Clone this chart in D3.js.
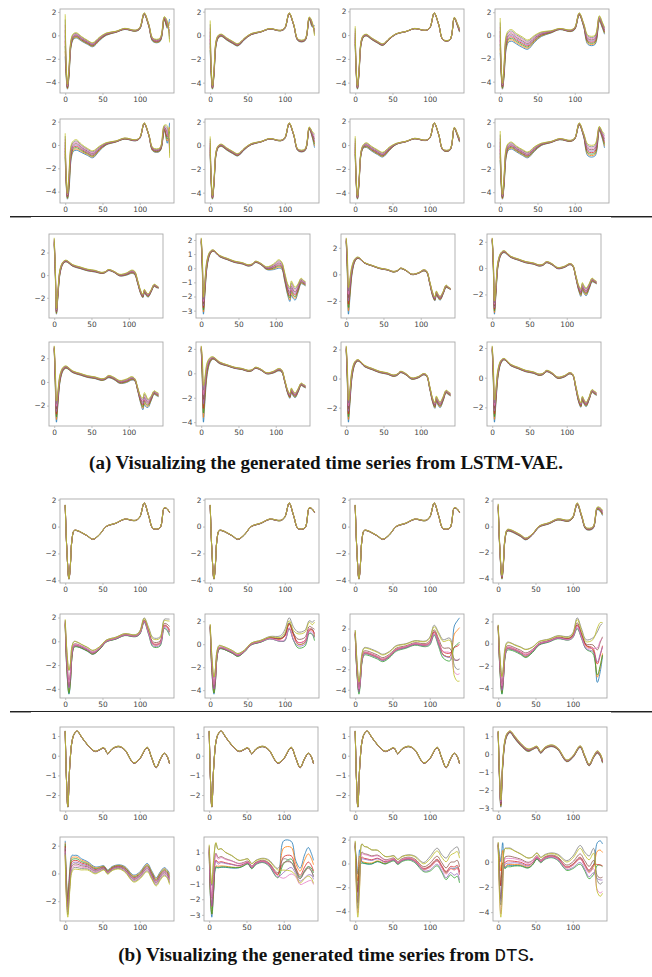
<!DOCTYPE html>
<html>
<head>
<meta charset="utf-8">
<script src="https://cdn.jsdelivr.net/npm/d3@7"></script>
<style>
body { margin: 0; background: #fff; }
</style>
</head>
<body>
<div id="chart"></div>
<script>

// matplotlib tab10, 9 series per panel
var lineColors = ["#1f77b4","#ff7f0e","#2ca02c","#d62728","#9467bd","#8c564b","#e377c2","#7f7f7f","#bcbd22"];
// position of each series inside a bundle, and a second "crossing" mode
var lineFrac  = [-0.5,-0.375,-0.25,-0.125,0,0.125,0.25,0.375,0.5];
var twistFrac = [0.5,0.3,-0.2,0.1,-0.4,0.0,-0.5,0.25,-0.1];
var xTicks = [0, 50, 100];

// ---- (a) upper block: LSTM-VAE, dataset 1
var knotsG1 = [0,1,3,5,8,11,15,22,30,37,46,55,68,80,94,100,106,112,118,127,133,137,140];
var shapeG1 = [0.0,-2.5,-4.4,-3.2,-0.6,-0.1,0.0,-0.3,-0.6,-0.8,-0.3,0.1,0.3,0.55,0.4,0.6,1.85,0.9,-0.4,-0.4,1.45,0.9,0.4];
var spreadG1 = [
  [3.6,1.5,0.4,0.8,0.6,0.5,0.45,0.4,0.35,0.35,0.3,0.2,0.1,0.1,0.1,0.15,0.15,0.2,0.3,0.3,0.3,0.6,-2.0],
  [2.5,1.0,0.3,0.5,0.4,0.25,0.2,0.2,0.2,0.2,0.15,0.1,0.05,0.05,0.05,0.1,0.1,0.1,0.15,0.15,0.2,0.4,-0.9],
  [1.5,0.6,0.3,0.4,0.3,0.2,0.15,0.15,0.15,0.15,0.1,0.05,0.03,0.03,0.03,0.05,0.05,0.05,0.05,0.05,0.1,0.2,0.3],
  [3.0,1.0,0.5,1.0,1.2,1.0,1.0,0.9,0.9,0.8,0.6,0.4,0.2,0.1,0.15,0.2,0.2,0.3,0.8,0.8,0.5,0.5,0.6],
  [2.0,1.0,0.5,1.5,1.2,0.9,0.9,0.7,0.6,0.6,0.4,0.2,0.1,0.1,0.1,0.1,0.1,0.1,0.3,0.3,0.5,1.5,-3.0],
  [1.5,0.6,0.3,0.4,0.3,0.2,0.2,0.2,0.2,0.2,0.15,0.1,0.05,0.05,0.05,0.1,0.1,0.1,0.15,0.15,0.2,0.5,1.2],
  [1.5,0.6,0.3,0.4,0.3,0.3,0.4,0.4,0.4,0.4,0.3,0.1,0.05,0.05,0.05,0.05,0.05,0.05,0.1,0.1,0.1,0.2,0.3],
  [2.5,1.0,0.4,0.8,0.8,0.6,0.6,0.5,0.5,0.5,0.4,0.2,0.1,0.1,0.1,0.1,0.2,0.3,1.0,1.0,0.4,0.6,1.2]
];
var ticksG1 = [[-4,-2,0,2],[-4,-2,0,2],[-4,-2,0,2],[-4,-2,0,2],[-4,-2,0,2],[-4,-2,0,2],[-4,-2,0,2],[-4,-2,0,2]];

// ---- (a) lower block: LSTM-VAE, dataset 2
var knotsG2 = [0,1.5,3,5,8,12,16,25,35,45,55,63,68,73,80,88,97,104,108,112,116,119,121,123,126,130,134,137,140];
var shapeG2 = [3.0,0.3,-3.2,-1.6,0.4,1.1,1.25,0.85,0.65,0.45,0.35,0.2,0.25,0.45,0.3,0.0,0.1,0.3,0.2,-0.6,-1.5,-1.85,-1.4,-1.6,-1.8,-1.4,-0.9,-1.0,-1.1];
var spreadG2 = [
  [0.6,0.8,0.5,0.6,0.4,0.2,0.15,0.15,0.15,0.15,0.15,0.1,0.1,0.1,0.1,0.15,0.2,0.3,0.3,0.3,0.3,0.3,0.3,0.3,0.3,0.2,0.2,0.2,0.1],
  [0.3,1.0,1.2,1.0,0.5,0.2,0.1,0.1,0.1,0.1,0.1,0.1,0.1,0.1,0.1,0.2,0.4,0.6,0.5,0.6,0.8,1.0,1.0,1.0,0.9,0.6,0.4,0.3,0.3],
  [0.3,1.5,2.0,1.5,0.6,0.2,0.1,0.05,0.05,0.05,0.05,0.05,0.05,0.05,0.05,0.05,0.05,0.1,0.1,0.2,0.3,0.3,0.3,0.3,0.3,0.2,0.2,0.1,0.1],
  [0.2,0.8,1.0,0.8,0.4,0.2,0.15,0.1,0.1,0.1,0.1,0.1,0.1,0.1,0.1,0.1,0.1,0.1,0.1,0.2,0.4,0.6,0.6,0.6,0.6,0.4,0.3,0.2,0.2],
  [0.3,1.5,1.8,1.2,0.6,0.3,0.2,0.15,0.15,0.15,0.15,0.15,0.15,0.2,0.2,0.25,0.3,0.3,0.2,0.3,0.6,1.0,1.0,1.0,0.7,0.4,0.3,0.3,0.3],
  [0.3,2.0,3.0,2.0,1.0,0.4,0.2,0.15,0.1,0.1,0.1,0.1,0.1,0.1,0.1,0.1,0.15,0.2,0.2,0.2,0.3,0.4,0.4,0.4,0.4,0.3,0.2,0.2,0.2],
  [0.3,1.2,1.5,1.0,0.5,0.2,0.1,0.1,0.1,0.1,0.1,0.1,0.1,0.1,0.1,0.1,0.1,0.1,0.1,0.2,0.3,0.4,0.4,0.4,0.4,0.3,0.2,0.2,0.2],
  [0.3,1.2,1.5,1.0,0.5,0.2,0.1,0.1,0.1,0.1,0.1,0.1,0.1,0.1,0.1,0.1,0.1,0.1,0.1,0.2,0.3,0.3,0.3,0.3,0.3,0.2,0.2,0.2,0.2]
];
// [knot x, offset] pairs where a panel departs from the shared shape
var shiftG2 = [
  null,
  [[0,-1.0],[3,0.55],[5,0.3]],
  [[0,-0.4],[1.5,0.5],[3,1.2],[5,0.6]],
  [[0,-0.8],[3,0.2]],
  [[0,-0.1],[3,0.7],[5,0.3]],
  [[0,-0.9],[3,0.7],[5,0.3]],
  [[0,-0.9],[3,0.95],[5,0.4]],
  [[0,-1.0],[3,0.95],[5,0.4]]
];
var ticksG2 = [[-2,0,2],[-3,-2,-1,0,1,2],[-2,0,2],[-2,0,2],[-2,0,2],[-4,-2,0,2],[-2,0,2],[-2,0,2]];

// ---- (b) upper block: DTS, dataset 1
var knotsG3 = [0,2,5,7,9,12,16,22,30,37,46,55,68,80,94,100,106,112,118,127,133,137,140];
var shapeG3 = [1.6,-1.5,-3.9,-2.8,-1.0,-0.3,-0.3,-0.45,-0.7,-0.95,-0.6,0.0,0.25,0.55,0.45,0.7,1.75,0.8,-0.15,-0.1,1.4,1.3,1.05];
var spreadG3 = [
  0.03, 0.04, 0.04,
  [0.3,0.3,0.3,0.3,0.2,0.15,0.15,0.15,0.15,0.15,0.1,0.1,0.1,0.1,0.1,0.1,0.15,0.15,0.15,0.15,0.2,0.3,0.4],
  [0.5,2.0,2.5,2.0,1.2,0.6,0.5,0.4,0.4,0.4,0.3,0.2,0.2,0.2,0.2,0.3,0.4,0.6,0.8,0.8,0.8,1.0,1.5],
  [0.3,1.5,1.8,1.5,0.8,0.4,0.3,0.3,0.3,0.3,0.2,0.2,0.2,0.2,0.4,0.8,0.8,1.0,1.5,1.5,1.2,1.0,2.0],
  [0.5,1.5,1.5,1.2,1.0,0.8,0.8,0.8,0.8,0.8,0.7,0.6,0.5,0.5,0.6,0.8,1.0,1.5,2.0,2.5,-4.0,-5.0,-5.3],
  [0.2,1.5,2.0,1.5,1.0,0.8,0.8,0.7,0.8,0.9,0.6,0.4,0.3,0.3,0.3,0.4,1.0,0.8,0.8,1.5,5.5,5.0,3.7]
];
var twistG3 = [
  null, null, null, null,
  [0,0.5,0.8,0.6,0.4,0.3,0.2,0.1,0.1,0.1,0.1,0.1,0.1,0.1,0.1,0.2,0.3,0.5,0.6,0.6,0.6,0.8,1.0],
  [0,0.3,0.5,0.5,0.3,0.2,0.1,0.1,0.1,0.1,0.1,0.1,0.1,0.2,0.5,1.0,1.0,1.2,1.0,1.0,0.8,1.0,1.2],
  [0.2,0.6,0.8,0.8,0.6,0.5,0.5,0.5,0.5,0.5,0.4,0.4,0.3,0.3,0.4,0.6,0.8,1.0,1.2,1.5,1.5,1.5,1.5],
  [0,0.5,0.8,0.8,0.6,0.5,0.4,0.4,0.4,0.4,0.3,0.2,0.2,0.2,0.3,0.4,0.8,0.8,0.8,1.0,1.0,1.0,1.2]
];
var shiftG3 = [
  null, null, null, null,
  [[5,0.3]],
  [[5,0.2],[118,0.4],[127,0.5]],
  [[127,-0.15],[133,-1.9],[137,-1.8],[140,-1.4]],
  [[127,-0.2],[133,-2.65],[137,-1.8],[140,-0.9]]
];
var ticksG3 = [[-4,-2,0,2],[-4,-2,0,2],[-4,-2,0,2],[-4,-2,0,2],[-4,-2,0,2],[-4,-2,0,2],[-4,-2,0,2],[-4,-2,0,2]];

// ---- (b) lower block: DTS, dataset 2
var knotsG4 = [0,1.5,3.5,6,9,12,16,22,30,40,46,52,57,63,72,80,92,100,110,116,122,128,133,137,140];
var shapeG4 = [1.25,-1.0,-2.6,-0.6,0.7,1.1,1.25,0.95,0.55,0.22,0.3,0.4,0.1,0.35,0.47,0.3,-0.37,-0.15,0.42,-0.1,-0.6,-0.15,0.12,-0.05,-0.4];
var spreadG4 = [
  0.03, 0.03, 0.03,
  [0.1,0.3,0.4,0.3,0.2,0.15,0.1,0.15,0.15,0.15,0.1,0.1,0.1,0.1,0.1,0.1,0.1,0.1,0.1,0.1,0.1,0.1,0.15,0.15,0.2],
  [-1.0,-1.5,-1.5,-1.5,-1.2,-1.0,-1.0,-0.8,-0.6,-0.5,-0.4,-0.3,-0.3,-0.3,-0.3,-0.4,-0.5,-0.5,-0.6,-0.6,-0.6,-0.6,-0.6,-0.6,-0.8],
  [0.5,2.0,2.5,2.5,2.0,1.5,1.5,1.2,1.0,0.6,0.5,0.4,0.4,0.3,0.3,0.4,0.6,-0.8,-1.2,-0.6,-0.6,-0.8,-1.0,-1.0,-1.0],
  [0.5,-2.0,-3.0,-2.5,2.0,1.8,1.8,1.5,1.2,0.8,0.6,0.5,0.5,0.5,0.5,0.6,0.8,1.2,1.5,1.5,1.8,2.0,2.5,2.5,2.5],
  [0.3,-2.5,-3.5,-3.0,2.0,1.8,1.8,1.5,1.2,1.0,0.8,0.6,0.5,0.4,0.4,0.5,0.8,1.0,1.5,1.5,1.8,2.0,-3.0,-3.5,-3.0]
];
var twistG4 = [
  null, null, null, null, null,
  [0,0.5,0.6,0.6,0.6,0.6,0.5,0.4,0.3,0.2,0.2,0.2,0.2,0.2,0.2,0.3,0.5,1.8,1.2,0.6,0.6,1.2,1.4,1.0,0.8],
  [0,0.8,1.0,1.0,0.8,0.6,0.6,0.5,0.4,0.3,0.3,0.3,0.3,0.3,0.3,0.4,0.6,1.0,1.2,1.2,1.5,1.5,2.0,2.0,2.0],
  [0,1.0,1.5,1.2,0.8,0.8,0.8,0.6,0.5,0.4,0.3,0.3,0.3,0.3,0.3,0.4,0.6,0.8,1.2,1.2,1.5,1.8,1.5,1.5,1.5]
];
var shiftG4 = [
  null, null, null,
  [[3.5,-0.15]],
  [[0,0.6],[3.5,0.2],[12,-0.3],[16,-0.45],[22,-0.3]],
  [[3.5,0.4],[12,-0.6],[16,-0.7],[22,-0.5],[30,-0.2],[100,0.6],[110,0.1]],
  [[0,0.4],[3.5,-0.3],[12,-0.5],[16,-0.7],[22,-0.5],[133,-0.3],[140,-0.2]],
  [[0,0.15],[3.5,0.1],[9,-0.6],[12,-0.9],[16,-1.05],[22,-0.8],[30,-0.5],[40,-0.4],[46,-0.3],[133,-0.87],[137,-0.8],[140,-0.45]]
];
var ticksG4 = [[-2,-1,0,1],[-2,-1,0,1],[-2,-1,0,1],[-3,-2,-1,0,1],[-2,0,2],[-3,-2,-1,0,1,2],[-4,-2,0,2],[-4,-2,0,2]];

// layout of each block: frame left of the 4 columns, frame top of the 2 rows
var blockLeft = [[60,205,350,495],[49,196,341,487],[60,205,350,493],[60,204,350,493]];
var blockTop  = [[9,119],[234,342],[499,614],[727,837]];
var panelW = 114, panelH = 84;

var svg = d3.select("#chart")
  .append("svg")
    .attr("width", 652)
    .attr("height", 977);

var clipCount = 0;

function valAt(a, k) {
  if (a == null) return 0;
  return typeof a === "number" ? a : a[k];
}
function shiftAt(s, x) {
  if (!s) return 0;
  var hit = s.find(function(p) { return p[0] === x; });
  return hit ? hit[1] : 0;
}
function minus(d) { return d < 0 ? "\u2212" + Math.abs(d) : String(d); }

function drawPanel(left, top, knots, shape, spread, twist, shift, ticks) {
  var series = lineColors.map(function(c, i) {
    return knots.map(function(xv, k) {
      return [xv, shape[k] + shiftAt(shift, xv) + valAt(spread, k) * lineFrac[i] + valAt(twist, k) * twistFrac[i]];
    });
  });
  var ys = d3.merge(series).map(function(d) { return d[1]; });
  var lo = d3.min(ys), hi = d3.max(ys), pad = (hi - lo) * 0.05;

  var x = d3.scaleLinear().domain([-7, 146]).range([0, panelW]);
  var y = d3.scaleLinear().domain([lo - pad, hi + pad]).range([panelH, 0]);

  var g = svg.append("g").attr("transform", "translate(" + left + "," + top + ")");

  var id = "clip" + (clipCount++);
  g.append("clipPath").attr("id", id)
    .append("rect").attr("width", panelW).attr("height", panelH);

  g.append("rect")
    .attr("width", panelW).attr("height", panelH)
    .attr("fill", "#fff");

  var line = d3.line()
    .x(function(d) { return x(d[0]); })
    .y(function(d) { return y(d[1]); })
    .curve(d3.curveCatmullRom.alpha(0.5));

  g.append("g").attr("clip-path", "url(#" + id + ")")
    .selectAll("path")
    .data(series)
    .enter()
    .append("path")
      .attr("d", line)
      .attr("fill", "none")
      .attr("stroke", function(d, i) { return lineColors[i]; })
      .attr("stroke-width", 0.8);

  var yt = ticks.filter(function(t) { return t >= lo - pad && t <= hi + pad; });

  var ax = g.append("g")
    .attr("transform", "translate(0," + panelH + ")")
    .call(d3.axisBottom(x).tickValues(xTicks).tickSize(2).tickPadding(1.5).tickFormat(minus));
  var ay = g.append("g")
    .call(d3.axisLeft(y).tickValues(yt).tickSize(2).tickPadding(1.5).tickFormat(minus));

  [ax, ay].forEach(function(a) {
    a.select(".domain").remove();
    a.selectAll(".tick line").attr("stroke", "#999").attr("stroke-width", 0.6);
    a.selectAll(".tick text")
      .attr("fill", "#444")
      .style("font-family", "'DejaVu Sans', sans-serif")
      .style("font-size", "7.4px");
  });

  g.append("rect")
    .attr("width", panelW).attr("height", panelH)
    .attr("fill", "none")
    .attr("stroke", "#aaa")
    .attr("stroke-width", 0.9);
}

function drawBlock(b, knots, shape, spreads, twists, shifts, ticks) {
  for (var p = 0; p < 8; p++) {
    var r = Math.floor(p / 4), c = p % 4;
    drawPanel(blockLeft[b][c], blockTop[b][r], knots, shape, spreads[p],
      twists ? twists[p] : null, shifts ? shifts[p] : null, ticks[p]);
  }
}

drawBlock(0, knotsG1, shapeG1, spreadG1, null, null, ticksG1);
drawBlock(1, knotsG2, shapeG2, spreadG2, null, shiftG2, ticksG2);
drawBlock(2, knotsG3, shapeG3, spreadG3, twistG3, shiftG3, ticksG3);
drawBlock(3, knotsG4, shapeG4, spreadG4, twistG4, shiftG4, ticksG4);

// separators between the two datasets of each block
[216.5, 711.5].forEach(function(yy) {
  svg.append("line").attr("x1", 10).attr("x2", 31).attr("y1", yy + 1).attr("y2", yy + 1)
    .attr("stroke", "#999").attr("stroke-width", 1);
  svg.append("line").attr("x1", 611).attr("x2", 652).attr("y1", yy + 1).attr("y2", yy + 1)
    .attr("stroke", "#999").attr("stroke-width", 1);
  svg.append("line").attr("x1", 10).attr("x2", 652).attr("y1", yy).attr("y2", yy)
    .attr("stroke", "#222").attr("stroke-width", 1);
});

// captions
function fitWidth(t, target) {
  var w = t.node().getComputedTextLength();
  var fs = parseFloat(t.style("font-size"));
  t.style("font-size", (fs * target / w) + "px");
}

var capA = svg.append("text")
  .attr("x", 326).attr("y", 469)
  .attr("text-anchor", "middle")
  .style("font-family", "'Liberation Serif', 'DejaVu Serif', serif")
  .style("font-weight", "bold")
  .style("font-size", "17px")
  .attr("fill", "#111")
  .text("(a) Visualizing the generated time series from LSTM-VAE.");
fitWidth(capA, 474);

var capB = svg.append("text")
  .attr("x", 326).attr("y", 961)
  .attr("text-anchor", "middle")
  .style("font-family", "'Liberation Serif', 'DejaVu Serif', serif")
  .style("font-weight", "bold")
  .style("font-size", "17px")
  .attr("fill", "#111");
capB.append("tspan").text("(b) Visualizing the generated time series from ");
capB.append("tspan").style("font-family", "'Liberation Mono', 'DejaVu Sans Mono', monospace").style("font-weight", "normal").text("DTS");
capB.append("tspan").text(".");
fitWidth(capB, 416);

</script>
</body>
</html>
